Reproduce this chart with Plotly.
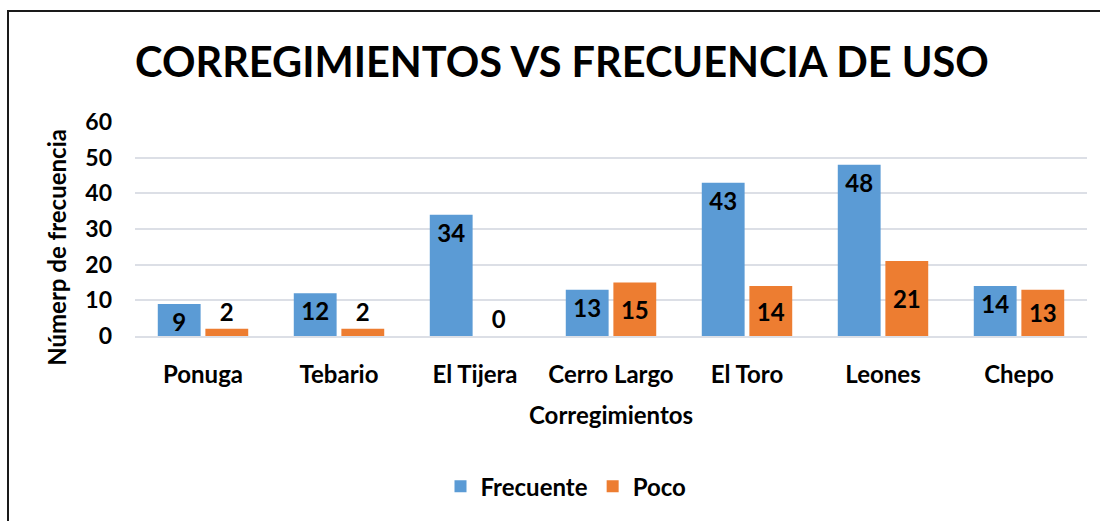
import plotly.graph_objects as go

categories = ["Ponuga", "Tebario", "El Tijera", "Cerro Largo", "El Toro", "Leones", "Chepo"]
frecuente = [9, 12, 34, 13, 43, 48, 14]
poco = [2, 2, 0, 15, 14, 21, 13]
y_ticks = [0, 10, 20, 30, 40, 50, 60]

title_text = "CORREGIMIENTOS VS FRECUENCIA DE USO"
x_title = "Corregimientos"
y_title = "Númerp de frecuencia"

FONT = "Lato"
FS = 24
W, H = 1100, 521
L, R, T, B = 135, 13, 122, 183
PW, PH = W - L - R, H - T - B


def px_x(p):
    return (p - L) / PW


def px_y(p):
    return (H - B - p) / PH


blue = "#5B9BD5"
orange = "#ED7D31"
lbl_font = dict(family=FONT, size=FS, color="black", weight="bold")

fig = go.Figure()
fig.add_trace(go.Bar(
    name="Frecuente", x=categories, y=frecuente,
    marker=dict(color=blue, line=dict(width=0)),
    text=[str(v) for v in frecuente],
    textposition="inside", insidetextanchor="end", textangle=0,
    constraintext="none",
    textfont=lbl_font,
))
poco_pos = ["outside" if v < 5 else "inside" for v in poco]
fig.add_trace(go.Bar(
    name="Poco", x=categories, y=poco,
    marker=dict(color=orange, line=dict(width=0)),
    text=[str(v) for v in poco],
    textposition=poco_pos, insidetextanchor="middle", textangle=0,
    constraintext="none", cliponaxis=False,
    textfont=lbl_font,
))

fig.update_layout(
    width=W, height=H,
    margin=dict(l=L, r=R, t=T, b=B),
    paper_bgcolor="white", plot_bgcolor="white",
    barmode="group", bargap=0.30, bargroupgap=0.10,
    font=dict(family=FONT, color="black"),
    title=dict(text=title_text, x=562 / W, xanchor="center",
               y=1 - 62 / H, yanchor="middle", yref="container",
               font=dict(family=FONT, size=41.5, color="black", weight="bold")),
    showlegend=True,
    legend=dict(orientation="h", x=px_x(566), xanchor="center",
                y=px_y(490), yanchor="middle",
                font=lbl_font, bgcolor="rgba(0,0,0,0)"),
    xaxis=dict(showgrid=False, showline=True, linecolor="#dcdfe6", linewidth=2,
               ticks="", ticklabelstandoff=16, tickfont=lbl_font),
    yaxis=dict(range=[0, 60], tickvals=y_ticks, showgrid=True,
               gridcolor="#dcdfe6", gridwidth=2, zeroline=False, showline=False,
               ticks="", ticklabelstandoff=22,
               tickfont=dict(family=FONT, size=23, color="black", weight="bold")),
    annotations=[
        dict(text=x_title, xref="paper", yref="paper", x=0.5, y=px_y(417),
             xanchor="center", yanchor="middle", showarrow=False, font=lbl_font),
        dict(text=y_title, xref="paper", yref="paper", x=px_x(57), y=px_y(249),
             xanchor="center", yanchor="middle", showarrow=False, textangle=-90,
             font=lbl_font),
    ],
    shapes=[
        dict(type="rect", xref="paper", yref="paper",
             x0=px_x(8), x1=px_x(1130), y0=px_y(560), y1=px_y(10),
             line=dict(color="#1a1a1a", width=2), fillcolor="rgba(0,0,0,0)",
             layer="below"),
    ],
)

fig.write_html(
    "out.html",
    config={"displayModeBar": False},
    post_script="document.body.style.margin='0';document.body.style.overflow='hidden';",
)
